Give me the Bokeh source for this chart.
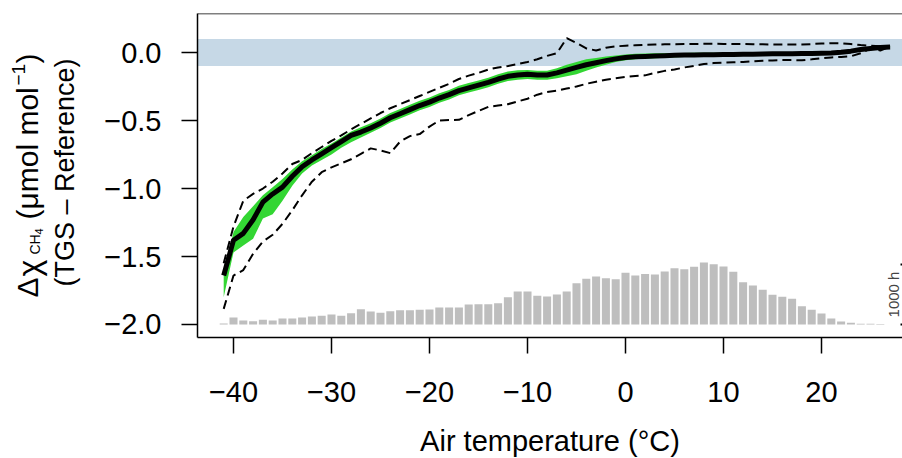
import math
from bokeh.plotting import figure
from bokeh.layouts import row, column
from bokeh.models import Range1d, BoxAnnotation, Span, Label, FixedTicker
from bokeh.core.properties import value
from bokeh.embed import file_html
from bokeh.resources import INLINE

# ---------------- data ----------------
temps = list(range(-41, 28))

mean_diff = [-1.64, -1.38, -1.33, -1.23, -1.10, -1.04, -0.99, -0.91, -0.84, -0.79,
             -0.745, -0.70, -0.655, -0.61, -0.585, -0.555, -0.52, -0.48, -0.45, -0.42,
             -0.39, -0.365, -0.335, -0.31, -0.28, -0.26, -0.24, -0.22, -0.195, -0.175,
             -0.165, -0.16, -0.165, -0.165, -0.15, -0.13, -0.11, -0.09, -0.075, -0.06,
             -0.047, -0.037, -0.032, -0.029, -0.026, -0.023, -0.021, -0.019, -0.018, -0.017,
             -0.016, -0.015, -0.014, -0.013, -0.012, -0.011, -0.010, -0.010, -0.009, -0.008,
             -0.007, -0.005, -0.003, 0.002, 0.010, 0.022, 0.030, 0.036, 0.040]

ci_low = [-1.80, -1.47, -1.42, -1.37, -1.22, -1.19, -1.09, -0.98, -0.89, -0.83,
          -0.79, -0.75, -0.70, -0.66, -0.625, -0.59, -0.555, -0.515, -0.485, -0.455,
          -0.425, -0.40, -0.37, -0.345, -0.315, -0.295, -0.275, -0.255, -0.23, -0.21,
          -0.20, -0.195, -0.20, -0.20, -0.19, -0.175, -0.16, -0.135, -0.11, -0.09,
          -0.07, -0.057, -0.05, -0.045, -0.042, -0.038, -0.035, -0.033, -0.031, -0.030,
          -0.029, -0.028, -0.027, -0.026, -0.025, -0.024, -0.023, -0.023, -0.022, -0.021,
          -0.020, -0.018, -0.016, -0.011, -0.002, 0.012, 0.022, 0.030, 0.036]

ci_high = [-1.63, -1.32, -1.21, -1.13, -1.05, -0.99, -0.93, -0.86, -0.80, -0.755,
           -0.71, -0.67, -0.625, -0.58, -0.55, -0.52, -0.485, -0.445, -0.415, -0.385,
           -0.355, -0.33, -0.30, -0.275, -0.245, -0.225, -0.205, -0.185, -0.16, -0.14,
           -0.13, -0.128, -0.135, -0.135, -0.115, -0.09, -0.07, -0.05, -0.04, -0.03,
           -0.022, -0.015, -0.010, -0.008, -0.006, -0.005, -0.004, -0.003, -0.002, -0.002,
           -0.002, -0.002, -0.002, -0.001, -0.001, 0.0, 0.0, 0.0, 0.001, 0.002,
           0.003, 0.006, 0.009, 0.013, 0.020, 0.032, 0.038, 0.042, 0.044]

q_low = [-1.885, -1.64, -1.60, -1.48, -1.39, -1.34, -1.26, -1.16, -1.05, -0.95,
         -0.88, -0.845, -0.815, -0.785, -0.745, -0.705, -0.72, -0.74, -0.655, -0.615,
         -0.60, -0.545, -0.50, -0.497, -0.495, -0.46, -0.43, -0.40, -0.39, -0.38,
         -0.36, -0.34, -0.31, -0.29, -0.28, -0.265, -0.25, -0.23, -0.215, -0.20,
         -0.19, -0.18, -0.172, -0.168, -0.15, -0.135, -0.125, -0.11, -0.098, -0.085,
         -0.078, -0.075, -0.072, -0.07, -0.065, -0.06, -0.058, -0.056, -0.056, -0.057,
         -0.05, -0.042, -0.036, -0.033, -0.028, -0.005, 0.03, 0.015, 0.045]

q_high = [-1.55, -1.28, -1.09, -1.04, -1.00, -0.95, -0.89, -0.82, -0.79, -0.74,
          -0.695, -0.65, -0.61, -0.565, -0.525, -0.485, -0.445, -0.41, -0.38, -0.35,
          -0.32, -0.29, -0.26, -0.23, -0.195, -0.17, -0.15, -0.125, -0.11, -0.10,
          -0.085, -0.07, -0.05, -0.025, -0.005, 0.105, 0.07, 0.03, 0.015, 0.035,
          0.045, 0.05, 0.053, 0.056, 0.058, 0.06, 0.061, 0.062, 0.063, 0.064,
          0.064, 0.063, 0.062, 0.062, 0.061, 0.06, 0.059, 0.058, 0.058, 0.059,
          0.062, 0.066, 0.068, 0.068, 0.062, 0.055, 0.05, 0.046, 0.044]

hist_temps = list(range(-41, 27))
hist_hours = [15, 117, 67, 55, 78, 67, 100, 100, 117, 133,
              145, 167, 145, 188, 255, 217, 195, 222, 238, 238,
              245, 250, 283, 283, 283, 333, 338, 338, 355, 455,
              550, 550, 478, 467, 500, 550, 688, 761, 800, 772,
              755, 861, 817, 844, 833, 883, 938, 922, 964, 1033,
              1005, 967, 878, 705, 650, 578, 495, 461, 428, 305,
              245, 183, 100, 50, 28, 12, 12, 10]

x_ticks = [-40, -30, -20, -10, 0, 10, 20]
x_tick_labels = ["\u221240", "\u221230", "\u221220", "\u221210", "0", "10", "20"]
y_ticks = [-2.0, -1.5, -1.0, -0.5, 0.0]
y_tick_labels = ["\u22122.0", "\u22121.5", "\u22121.0", "\u22120.5", "0.0"]

# ---------------- layout constants ----------------
W, H = 902, 458
YLAB_W = 100          # width of the y-title strip
XLAB_H = 44           # height of the x-title strip
TOP_H = H - XLAB_H
LEFT, TOP, BOTTOM_PX = 197, 13, 337
X0, X1 = -43.673, 28.265
Y0, Y1 = -2.0956, 0.2868
HIST_BASE = -2.0
HIST_SCALE = 0.441 / 1000.0   # y units per hour
BAND = 0.1
FONT = "Liberation Sans"


def px_to_x(px):
    return X0 + (px - LEFT) * (X1 - X0) / (W - LEFT)


def strip(width, height, yr):
    f = figure(width=width, height=height, output_backend="svg", toolbar_location=None,
               x_range=Range1d(0, width), y_range=Range1d(*yr),
               x_axis_type=None, y_axis_type=None,
               min_border=0, min_border_left=0, min_border_right=0,
               min_border_top=0, min_border_bottom=0)
    f.grid.visible = False
    f.outline_line_color = None
    f.background_fill_color = "white"
    f.border_fill_color = "white"
    return f


# ---------------- main plot ----------------
p = figure(width=W - YLAB_W, height=TOP_H, output_backend="svg", toolbar_location=None,
           x_range=Range1d(X0, X1), y_range=Range1d(Y0, Y1),
           min_border_left=LEFT - YLAB_W, min_border_right=0, min_border_top=TOP,
           min_border_bottom=TOP_H - BOTTOM_PX)
p.grid.visible = False
p.outline_line_color = None
p.background_fill_color = "white"
p.border_fill_color = "white"

p.add_layout(BoxAnnotation(bottom=-BAND, top=BAND, fill_color="#c6d8e6",
                           fill_alpha=1.0, line_color=None, level="underlay"))

tops = [HIST_BASE + h * HIST_SCALE for h in hist_hours]
p.vbar(x=hist_temps, width=0.82, bottom=HIST_BASE, top=tops,
       fill_color="#bebebe", line_color=None)

p.varea(x=temps, y1=ci_low, y2=ci_high, fill_color="#33d633")
p.line(temps, q_low, line_color="black", line_width=2, line_dash="9 5")
p.line(temps, q_high, line_color="black", line_width=2, line_dash="9 5")
p.line(temps, mean_diff, line_color="black", line_width=5, line_join="round")

# scale bar for histogram (1000 h)
sb_x = px_to_x(901)
p.segment(x0=[sb_x - 0.1, sb_x - 0.1], x1=[sb_x + 0.3, sb_x + 0.3],
          y0=[HIST_BASE, HIST_BASE + 1000 * HIST_SCALE],
          y1=[HIST_BASE, HIST_BASE + 1000 * HIST_SCALE],
          line_color="black", line_width=2)
p.add_layout(Label(x=px_to_x(893), y=HIST_BASE + 500 * HIST_SCALE, text="1000 h",
                   angle=math.pi / 2, text_align="center", text_baseline="middle",
                   text_font=FONT, text_font_size="15px", text_color="#444444"))

p.add_layout(Span(location=Y1, dimension="width", line_color="black", line_width=1.5))

for ax in (p.xaxis[0], p.yaxis[0]):
    ax.axis_line_width = 1.5
    ax.major_tick_line_width = 1.5
    ax.major_tick_in = 0
    ax.major_tick_out = 16
    ax.minor_tick_line_color = None
    ax.major_label_text_font = FONT
    ax.major_label_text_font_size = "29px"
    ax.major_label_text_color = "black"

p.xaxis.ticker = FixedTicker(ticks=x_ticks)
p.xaxis.major_label_overrides = {float(t): s for t, s in zip(x_ticks, x_tick_labels)}
p.xaxis.major_label_standoff = 28

p.yaxis.ticker = FixedTicker(ticks=y_ticks)
p.yaxis.major_label_overrides = {t: s for t, s in zip(y_ticks, y_tick_labels)}
p.yaxis.major_label_standoff = 20

# ---------------- y title strip ----------------
# the strip's frame is aligned with the main frame (rows 13..337 of the canvas),
# so its y data value is "TOP_H - canvas row".
yl = strip(YLAB_W, TOP_H, (TOP_H - BOTTOM_PX, TOP_H - TOP))


def ytext(txt, px_x, px_y, size, align="left"):
    yl.text(x=[px_x], y=[TOP_H - px_y], text=[txt], angle=math.pi / 2,
            text_align=align, text_baseline="middle", text_font=value(FONT),
            text_font_size=size, text_color="black")


ytext("\u0394", 27, 297, "30px")
ytext("\u03c7", 28, 276, "32px")
ytext("CH", 34, 254, "14px")
ytext("4", 38, 234, "11px")
ytext("(\u03bcmol mol", 27, 219, "30px")
ytext("\u22121", 18, 85, "19px")
ytext(")", 27, 63, "30px")
ytext("(TGS \u2013 Reference)", 64, 172, "27px", align="center")

# ---------------- x title strip ----------------
xl = strip(W, XLAB_H, (0, XLAB_H))
xl.text(x=[(LEFT + W) / 2], y=[XLAB_H - (440 - TOP_H)], text=["Air temperature (\u00b0C)"],
        text_align="center", text_baseline="middle", text_font=value(FONT),
        text_font_size="29px", text_color="black")

layout = column(row(yl, p), xl)
open("out.html", "w").write(file_html(layout, INLINE))
